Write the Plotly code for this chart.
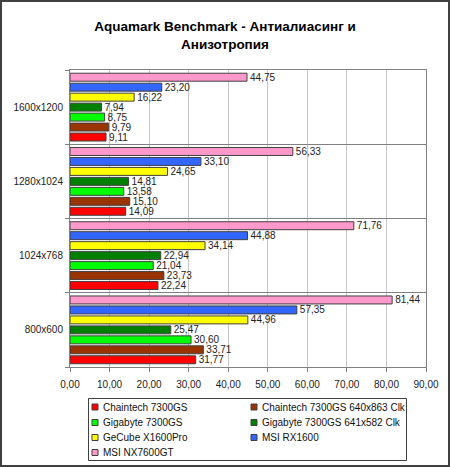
import plotly.graph_objects as go

categories = ["800x600", "1024x768", "1280x1024", "1600x1200"]
series_names = [
    "Chaintech 7300GS",
    "Chaintech 7300GS 640x863 Clk",
    "Gigabyte 7300GS",
    "Gigabyte 7300GS 641x582 Clk",
    "GeCube X1600Pro",
    "MSI RX1600",
    "MSI NX7600GT",
]
chaintech = [31.77, 22.24, 14.09, 9.11]
chaintech_clk = [33.71, 23.73, 15.10, 9.79]
gigabyte = [30.60, 21.04, 13.58, 8.75]
gigabyte_clk = [25.47, 22.94, 14.81, 7.94]
gecube = [44.96, 34.14, 24.65, 16.22]
msi_rx = [57.35, 44.88, 33.10, 23.20]
msi_nx = [81.44, 71.76, 56.33, 44.75]
series_values = [chaintech, chaintech_clk, gigabyte, gigabyte_clk, gecube, msi_rx, msi_nx]
colors = ["#ff0000", "#993300", "#00ff00", "#008000", "#ffff00", "#3366ff", "#ff99cc"]
x_ticks = [0, 10, 20, 30, 40, 50, 60, 70, 80, 90]

W_IMG, H_IMG = 450, 467
L, T, R, B = 70, 70, 426, 367
PW, PH = R - L, B - T


def px(x):
    return (x - L) / PW


def py(y):
    return 1 - (y - T) / PH


FONT = "Liberation Sans, Arial, sans-serif"
FS = 10

fig = go.Figure()
for name, vals, col in zip(series_names, series_values, colors):
    fig.add_trace(go.Bar(
        name=name, y=categories, x=vals, orientation="h",
        marker=dict(color=col, line=dict(color="#404040", width=1)),
        texttemplate="%{x:.2f}", textposition="outside",
        constraintext="none", cliponaxis=False,
        textfont=dict(family=FONT, size=FS, color="#222222"),
        showlegend=False,
    ))

shapes = [
    # outer frame
    dict(type="rect", xref="paper", yref="paper",
         x0=px(1), x1=px(449), y0=py(1), y1=py(466),
         line=dict(color="#404040", width=2), layer="above"),
    # legend box
    dict(type="rect", xref="paper", yref="paper",
         x0=px(88.5), x1=px(406.5), y0=py(398.5), y1=py(460.5),
         line=dict(color="#404040", width=1), fillcolor="white", layer="above"),
]
annotations = []
legend_rows = [407, 422.5, 437.5, 452.5]
legend_cols = [92, 251]
for i, (name, col) in enumerate(zip(series_names, colors)):
    r, c = divmod(i, 2)
    yc = legend_rows[r]
    x0 = legend_cols[c]
    shapes.append(dict(type="rect", xref="paper", yref="paper",
                       x0=px(x0), x1=px(x0 + 6), y0=py(yc - 3), y1=py(yc + 3),
                       fillcolor=col, line=dict(color="#404040", width=1), layer="above"))
    annotations.append(dict(text=name, xref="paper", yref="paper",
                            x=px(x0 + 9), y=py(yc), xanchor="left", yanchor="middle",
                            showarrow=False, font=dict(family=FONT, size=FS, color="#111111")))

fig.update_layout(
    width=W_IMG, height=H_IMG,
    margin=dict(l=L, r=W_IMG - R, t=T, b=H_IMG - B, pad=0),
    paper_bgcolor="white", plot_bgcolor="white",
    separators=", ",
    barmode="group", bargap=0.06, bargroupgap=0.2,
    font=dict(family=FONT, size=FS, color="#111111"),
    title=dict(text="Aquamark Benchmark - Антиалиасинг и<br>Анизотропия",
               xref="container", yref="container", x=0.5, xanchor="center",
               y=1 - 31 / H_IMG, yanchor="middle",
               font=dict(family=FONT, size=13.5, color="#000000", weight="bold")),
    xaxis=dict(range=[0, 90], tickvals=x_ticks, tickformat=".2f",
               showgrid=True, gridcolor="#c8c8c8", gridwidth=1,
               showline=True, linecolor="#808080", linewidth=1, mirror=True,
               ticks="outside", ticklen=4, tickcolor="#808080", ticklabelstandoff=4,
               zeroline=False, tickfont=dict(family=FONT, size=FS, color="#222222"), fixedrange=True),
    yaxis=dict(type="category", range=[-0.5, 3.5], tickson="boundaries",
               showgrid=True, gridcolor="#808080", gridwidth=1,
               showline=True, linecolor="#808080", linewidth=1, mirror=True,
               ticks="outside", ticklen=4, tickcolor="#808080", ticklabelstandoff=4,
               tickfont=dict(family=FONT, size=FS, color="#222222"), fixedrange=True),
    shapes=shapes, annotations=annotations,
)

fig.write_html("out.html")
